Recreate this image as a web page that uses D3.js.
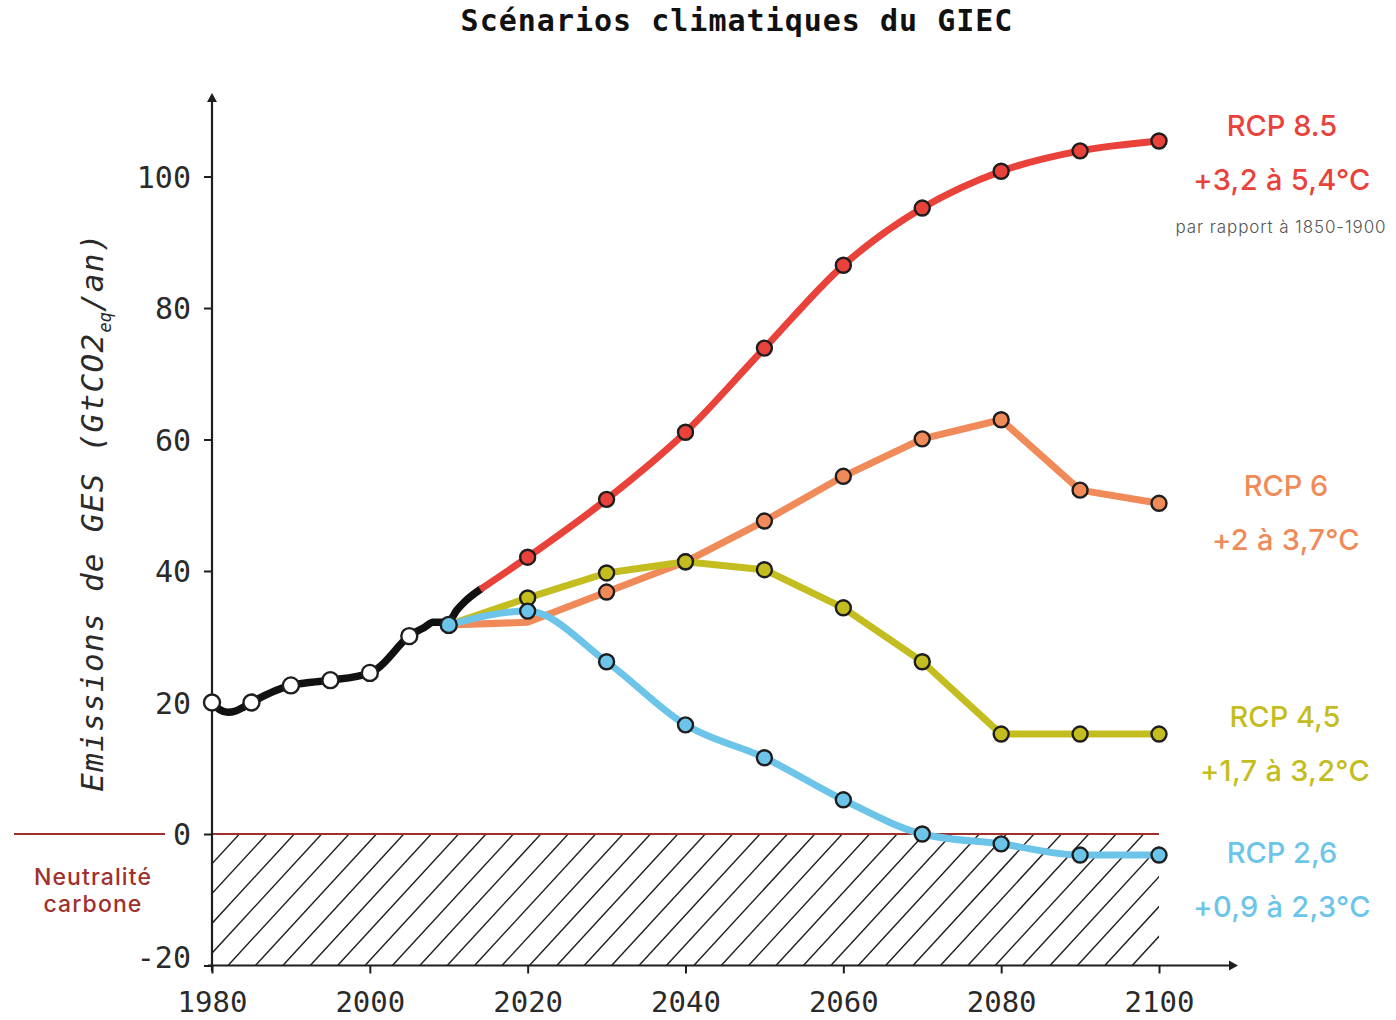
<!DOCTYPE html>
<html>
<head>
<meta charset="utf-8">
<script src="https://cdn.jsdelivr.net/npm/d3@7"></script>
<style>
  html, body { margin: 0; padding: 0; background: #fff; }
  svg { display: block; }
</style>
</head>
<body>
<svg id="chart" width="1396" height="1020"></svg>
<script>
// ---------------- DATA ----------------
const titleText = "Scénarios climatiques du GIEC";
const yTickValues = [-20, 0, 20, 40, 60, 80, 100];
const xTickValues = [1980, 2000, 2020, 2040, 2060, 2080, 2100];

// historical emissions line (GtCO2eq/an)
const histYears  = [1980, 1981, 1982, 1983, 1984, 1985, 1990, 1992, 1995, 2000, 2001, 2005, 2007, 2008, 2009, 2010, 2011, 2012, 2014];
const histValues = [20,   18.9, 18.5, 18.7, 19.3, 20,   22.6, 23.0, 23.4, 24.5, 25.2, 30.1, 31.5, 32.2, 32.2, 32.3, 34.0, 35.3, 37.2];
// historical markers
const histMarkerYears  = [1980, 1985, 1990, 1995, 2000, 2005];
const histMarkerValues = [20,   20,   22.6, 23.4, 24.5, 30.1];

const startYear = 2010;
const startValue = 31.8;

const scenarioNames  = ["RCP 8.5", "RCP 6", "RCP 4,5", "RCP 2,6"];
const scenarioRanges = ["+3,2 à 5,4°C", "+2 à 3,7°C", "+1,7 à 3,2°C", "+0,9 à 2,3°C"];

const rcp85Years  = [2014, 2020, 2030, 2040, 2050, 2060, 2070, 2080, 2090, 2100];
const rcp85Values = [37.2, 42.1, 50.9, 61.1, 73.9, 86.5, 95.2, 100.8, 103.9, 105.4];

const rcp6Years  = [2010, 2020, 2030, 2040, 2050, 2060, 2070, 2080, 2090, 2100];
const rcp6Values = [31.8, 32.2, 36.8, 41.4, 47.6, 54.4, 60.1, 63.0, 52.3, 50.3];

const rcp45Years  = [2010, 2020, 2030, 2040, 2050, 2060, 2070, 2080, 2090, 2100];
const rcp45Values = [31.8, 35.9, 39.7, 41.4, 40.2, 34.4, 26.2, 15.2, 15.2, 15.2];

const rcp26Years  = [2010, 2020, 2030, 2040, 2050, 2060, 2070, 2080, 2090, 2100];
const rcp26Values = [31.8, 33.9, 26.2, 16.6, 11.6, 5.2, 0.0, -1.5, -3.2, -3.2];

// years that carry a circle marker for each scenario
const rcp85MarkerYears = [2020, 2030, 2040, 2050, 2060, 2070, 2080, 2090, 2100];
const rcp6MarkerYears  = [2030, 2040, 2050, 2060, 2070, 2080, 2090, 2100];
const rcp45MarkerYears = [2020, 2030, 2040, 2050, 2060, 2070, 2080, 2090, 2100];
const rcp26MarkerYears = [2020, 2030, 2040, 2050, 2060, 2070, 2080, 2090, 2100];

const footnoteText = "par rapport à 1850-1900";
const neutralLines = ["Neutralité", "carbone"];
const yLabelMain = "Emissions de GES (GtCO2";
const yLabelSub = "eq";
const yLabelEnd = "/an)";

// ---------------- STYLE ----------------
const colors = ["#e8423a", "#f08a58", "#c4bd1f", "#6cc5e9"];
const darkRed = "#a0302c";
const ink = "#1e1e1e";
const mono = "'DejaVu Sans Mono', monospace";
const sans = "Inter, 'Noto Sans', sans-serif";

// ---------------- CHART ----------------
const svg = d3.select("#chart");
const x = d3.scaleLinear().domain([1980, 2100]).range([212, 1159]);
const y = d3.scaleLinear().domain([-20, 100]).range([965.5, 176.5]);

// title
svg.append("text")
  .attr("x", 737).attr("y", 31)
  .attr("text-anchor", "middle")
  .attr("font-family", mono).attr("font-weight", "bold")
  .attr("font-size", 30).attr("letter-spacing", 1)
  .attr("fill", "#111")
  .text(titleText);

// hatched negative zone
const defs = svg.append("defs");
defs.append("clipPath").attr("id", "negClip")
  .append("rect")
  .attr("x", x(1980)).attr("y", y(0))
  .attr("width", x(2100) - x(1980)).attr("height", y(-20) - y(0));
const hatchG = svg.append("g").attr("clip-path", "url(#negClip)");
const hH = y(-20) - y(0);
const hSpacing = 27.4;
const hSlant = hH * 0.92;
const hatchStarts = d3.range(x(1980) - hSlant, x(2100) + hSpacing, hSpacing);
hatchG.selectAll("line").data(hatchStarts).join("line")
  .attr("x1", d => d).attr("y1", y(-20))
  .attr("x2", d => d + hSlant).attr("y2", y(0))
  .attr("stroke", ink).attr("stroke-width", 1.4);

// zero (carbon neutrality) line
svg.append("line")
  .attr("x1", x(1980)).attr("x2", x(2100))
  .attr("y1", y(0)).attr("y2", y(0))
  .attr("stroke", darkRed).attr("stroke-width", 2);
svg.append("line")
  .attr("x1", 14).attr("x2", 165)
  .attr("y1", y(0)).attr("y2", y(0))
  .attr("stroke", darkRed).attr("stroke-width", 2);

svg.append("g").selectAll("text").data(neutralLines).join("text")
  .attr("x", 93).attr("y", (d, i) => 885 + i * 27)
  .attr("text-anchor", "middle")
  .attr("font-family", sans).attr("font-weight", 500)
  .attr("font-size", 23).attr("letter-spacing", 1.1).attr("fill", darkRed)
  .text(d => d);

// axes
const yAxis = d3.axisLeft(y).tickValues(yTickValues).tickSize(8).tickPadding(13)
  .tickFormat(d => String(d));
const gy = svg.append("g").attr("transform", `translate(${x(1980)},0)`).call(yAxis);
gy.select(".domain").remove();
gy.selectAll(".tick line").attr("stroke", ink).attr("stroke-width", 2);
gy.selectAll(".tick text").attr("font-family", mono).attr("font-size", 30)
  .attr("fill", "#2a2a2a").attr("dy", d => d === -20 ? "0.08em" : "0.36em");

const xAxis = d3.axisBottom(x).tickValues(xTickValues).tickSize(8).tickPadding(18)
  .tickFormat(d => String(d));
const gx = svg.append("g").attr("transform", `translate(0,${y(-20)})`).call(xAxis);
gx.select(".domain").remove();
gx.selectAll(".tick line").attr("stroke", ink).attr("stroke-width", 2);
gx.selectAll(".tick text").attr("font-family", mono).attr("font-size", 29)
  .attr("fill", "#2a2a2a");

// axis lines with arrows
svg.append("line")
  .attr("x1", x(1980)).attr("x2", x(1980))
  .attr("y1", y(-20) + 6).attr("y2", 96)
  .attr("stroke", ink).attr("stroke-width", 2.2);
svg.append("path")
  .attr("d", `M${x(1980) - 5},${102} L${x(1980)},${93} L${x(1980) + 5},${102} Z`)
  .attr("fill", ink);
svg.append("line")
  .attr("x1", x(1980) - 4).attr("x2", 1234)
  .attr("y1", y(-20)).attr("y2", y(-20))
  .attr("stroke", ink).attr("stroke-width", 2.2);
svg.append("path")
  .attr("d", `M${1229},${y(-20) - 5} L${1238},${y(-20)} L${1229},${y(-20) + 5} Z`)
  .attr("fill", ink);

// y-axis label
const yl = svg.append("text")
  .attr("transform", "translate(103,512) rotate(-90)")
  .attr("text-anchor", "middle")
  .attr("font-family", mono).attr("font-style", "italic")
  .attr("font-size", 31).attr("letter-spacing", 1.3).attr("fill", "#2a2a2a");
yl.append("tspan").text(yLabelMain);
yl.append("tspan").attr("font-size", 17).attr("letter-spacing", 0).attr("dy", 8).text(yLabelSub);
yl.append("tspan").attr("dy", -8).text(yLabelEnd);

// lines
const lineGen = d3.line().x(d => x(d[0])).y(d => y(d[1]));
const zip = (a, b) => a.map((v, i) => [v, b[i]]);

svg.append("path")
  .datum(zip(histYears, histValues))
  .attr("d", lineGen.curve(d3.curveMonotoneX))
  .attr("fill", "none").attr("stroke", "#111").attr("stroke-width", 7.5)
  .attr("stroke-linejoin", "round").attr("stroke-linecap", "round");

const scenarios = [
  { years: rcp85Years, values: rcp85Values, markers: rcp85MarkerYears, curve: d3.curveMonotoneX },
  { years: rcp6Years,  values: rcp6Values,  markers: rcp6MarkerYears,  curve: d3.curveLinear },
  { years: rcp45Years, values: rcp45Values, markers: rcp45MarkerYears, curve: d3.curveLinear },
  { years: rcp26Years, values: rcp26Values, markers: rcp26MarkerYears, curve: d3.curveMonotoneX }
];

// historical markers
svg.append("g").selectAll("circle")
  .data(zip(histMarkerYears, histMarkerValues)).join("circle")
  .attr("cx", d => x(d[0])).attr("cy", d => y(d[1])).attr("r", 8)
  .attr("fill", "#fff").attr("stroke", ink).attr("stroke-width", 2.4);

scenarios.forEach((s, i) => {
  const pts = zip(s.years, s.values);
  svg.append("path")
    .datum(pts)
    .attr("d", d3.line().x(d => x(d[0])).y(d => y(d[1])).curve(s.curve))
    .attr("fill", "none").attr("stroke", colors[i]).attr("stroke-width", 7)
    .attr("stroke-linejoin", "round").attr("stroke-linecap", "butt");
  svg.append("g").selectAll("circle")
    .data(pts.filter(p => s.markers.includes(p[0]))).join("circle")
    .attr("cx", d => x(d[0])).attr("cy", d => y(d[1])).attr("r", 7.5)
    .attr("fill", colors[i]).attr("stroke", ink).attr("stroke-width", 2.4);
});

// common start marker (2010)
svg.append("circle")
  .attr("cx", x(startYear)).attr("cy", y(startValue)).attr("r", 8)
  .attr("fill", colors[3]).attr("stroke", ink).attr("stroke-width", 2.4);

// right-hand labels
const labelCenters = [[1282, 126], [1286, 486], [1285, 717], [1282, 853]];
scenarioNames.forEach((name, i) => {
  const [cx, cy] = labelCenters[i];
  svg.append("text")
    .attr("x", cx).attr("y", cy + 10)
    .attr("text-anchor", "middle")
    .attr("font-family", sans).attr("font-weight", 500)
    .attr("font-size", 29).attr("fill", colors[i])
    .text(name);
  svg.append("text")
    .attr("x", cx).attr("y", cy + 64)
    .attr("text-anchor", "middle")
    .attr("font-family", sans).attr("font-weight", 500)
    .attr("font-size", 29).attr("letter-spacing", 0.3).attr("fill", colors[i])
    .text(scenarioRanges[i]);
});
svg.append("text")
  .attr("x", 1281).attr("y", 233)
  .attr("text-anchor", "middle")
  .attr("font-family", sans).attr("font-size", 17).attr("font-weight", 300)
  .attr("letter-spacing", 0.9)
  .attr("fill", "#555")
  .text(footnoteText);
</script>
</body>
</html>
